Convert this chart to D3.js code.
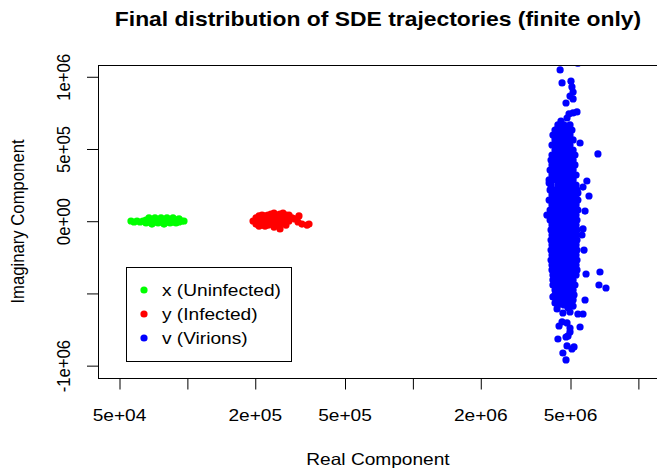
<!DOCTYPE html>
<html>
<head>
<meta charset="utf-8">
<script src="https://cdn.jsdelivr.net/npm/d3@7"></script>
<style>
body { margin: 0; background: #fff; }
svg { display: block; font-family: "Liberation Sans", Arial, Helvetica, sans-serif; }
</style>
</head>
<body>
<svg id="chart" width="657" height="470"></svg>
<script>
// chart text
var title = 'Final distribution of SDE trajectories (finite only)';
var xTitle = 'Real Component';
var yTitle = 'Imaginary Component';

// axis limits and ticks
var xLim = [4.035e4, 1.228e7];
var yLim = [-1.089e6, 1.078e6];
var xTicks = [5e4, 1e5, 2e5, 5e5, 1e6, 2e6, 5e6, 1e7];
var xTickLabels = ['5e+04', '', '2e+05', '5e+05', '', '2e+06', '5e+06', ''];
var yTicks = [-1e6, -5e5, 0, 5e5, 1e6];
var yTickLabels = ['-1e+06', '', '0e+00', '5e+05', '1e+06'];

var seriesNames = ['x (Uninfected)', 'y (Infected)', 'v (Virions)'];
var seriesColors = ['#00ff00', '#ff0000', '#0000ff'];

// final states [real, imaginary]
var uninfected = [
	[5.65e4, -2e3], [5.83e4, -9e3], [6.01e4, -2e3], [6.20e4, -9e3], [6.39e4, -2e3],
	[6.59e4, 5e3], [6.59e4, -1.6e4], [6.79e4, 1.9e4], [6.79e4, -9e3], [7.00e4, 5e3],
	[7.00e4, -2.3e4], [7.22e4, 1.9e4], [7.22e4, -9e3], [7.45e4, 5e3], [7.45e4, -1.6e4],
	[7.68e4, 1.9e4], [7.68e4, -9e3], [7.92e4, 5e3], [7.92e4, -2.3e4], [8.16e4, 1.9e4],
	[8.16e4, -9e3], [8.42e4, 5e3], [8.42e4, -1.6e4], [8.68e4, 1.9e4], [8.68e4, -9e3],
	[8.95e4, 5e3], [8.95e4, -1.6e4], [9.23e4, 1.2e4], [9.23e4, -9e3], [9.51e4, -2e3],
	[9.71e4, -2e3]
];

var infected = [
	[1.965e5, -2e3], [2.026e5, 1.9e4], [2.026e5, -2.3e4], [2.089e5, 3.3e4], [2.089e5, -2e3],
	[2.089e5, -3.7e4], [2.154e5, 3.9e4], [2.154e5, 5e3], [2.154e5, -3.0e4], [2.221e5, 3.3e4],
	[2.221e5, -2e3], [2.221e5, -3.7e4], [2.290e5, 3.9e4], [2.290e5, 5e3], [2.290e5, -3.0e4],
	[2.361e5, 4.6e4], [2.361e5, 1.2e4], [2.361e5, -2.3e4], [2.434e5, 5.3e4], [2.434e5, 1.9e4],
	[2.434e5, -1.6e4], [2.434e5, -4.4e4], [2.510e5, 3.9e4], [2.510e5, 5e3], [2.510e5, -3.0e4],
	[2.588e5, 4.6e4], [2.588e5, 1.2e4], [2.588e5, -2.3e4], [2.588e5, -5.7e4], [2.669e5, 5.3e4],
	[2.669e5, 1.9e4], [2.669e5, -1.6e4], [2.752e5, 3.9e4], [2.752e5, 5e3], [2.752e5, -3.0e4],
	[2.837e5, 3.9e4], [2.837e5, -2e3], [2.925e5, 1.9e4], [3.016e5, 1.2e4], [3.141e5, 3.3e4],
	[3.110e5, -9e3], [3.239e5, -2.3e4], [3.409e5, -3.0e4], [3.480e5, -2.3e4]
];

var virions = [
	// upper tail
	[5.42e6, 1.09e6], [4.52e6, 1.044e6], [4.61e6, 9.54e5], [5.05e6, 9.66e5], [5.10e6, 9.26e5],
	[5.16e6, 8.91e5], [5.00e6, 8.63e5], [5.16e6, 8.43e5], [4.80e6, 8.15e5], [5.37e6, 7.53e5],
	[5.16e6, 7.46e5], [4.95e6, 7.39e5], [4.85e6, 7.11e5], [4.56e6, 6.90e5], [4.65e6, 6.49e5],
	[4.42e6, 6.42e5], [4.95e6, 6.07e5], [4.47e6, 6.14e5], [5.54e6, 5.38e5], [6.65e6, 4.62e5],
	// core
	[4.42e6, 6.63e5], [4.70e6, 6.63e5], [5.00e6, 6.63e5],
	[4.29e6, 6.28e5], [4.56e6, 6.28e5], [4.85e6, 6.28e5], [5.10e6, 6.28e5],
	[4.20e6, 5.93e5], [4.42e6, 5.93e5], [4.70e6, 5.93e5], [5.00e6, 5.93e5],
	[4.29e6, 5.59e5], [4.56e6, 5.59e5], [4.85e6, 5.59e5], [5.16e6, 5.59e5],
	[4.16e6, 5.24e5], [4.42e6, 5.24e5], [4.70e6, 5.24e5], [5.00e6, 5.24e5],
	[4.29e6, 4.89e5], [4.56e6, 4.89e5], [4.85e6, 4.89e5], [5.16e6, 4.89e5],
	[4.16e6, 4.55e5], [4.42e6, 4.55e5], [4.70e6, 4.55e5], [5.00e6, 4.55e5], [5.26e6, 4.55e5],
	[4.12e6, 4.20e5], [4.29e6, 4.20e5], [4.56e6, 4.20e5], [4.85e6, 4.20e5], [5.16e6, 4.20e5],
	[4.16e6, 3.86e5], [4.42e6, 3.86e5], [4.70e6, 3.86e5], [5.00e6, 3.86e5], [5.26e6, 3.86e5],
	[4.08e6, 3.51e5], [4.29e6, 3.51e5], [4.56e6, 3.51e5], [4.85e6, 3.51e5], [5.16e6, 3.51e5],
	[4.16e6, 3.16e5], [4.42e6, 3.16e5], [4.70e6, 3.16e5], [5.00e6, 3.16e5], [5.32e6, 3.16e5],
	[4.04e6, 2.82e5], [4.29e6, 2.82e5], [4.56e6, 2.82e5], [4.85e6, 2.82e5], [5.16e6, 2.82e5],
	[4.12e6, 2.47e5], [4.42e6, 2.47e5], [4.70e6, 2.47e5], [5.00e6, 2.47e5], [5.32e6, 2.47e5],
	[4.08e6, 2.13e5], [4.29e6, 2.13e5], [4.56e6, 2.13e5], [4.85e6, 2.13e5], [5.16e6, 2.13e5], [5.37e6, 2.13e5],
	[4.16e6, 1.78e5], [4.42e6, 1.78e5], [4.70e6, 1.78e5], [5.00e6, 1.78e5], [5.32e6, 1.78e5],
	[4.04e6, 1.43e5], [4.29e6, 1.43e5], [4.56e6, 1.43e5], [4.85e6, 1.43e5], [5.16e6, 1.43e5], [5.42e6, 1.43e5],
	[4.16e6, 1.09e5], [4.42e6, 1.09e5], [4.70e6, 1.09e5], [5.00e6, 1.09e5], [5.32e6, 1.09e5],
	[4.08e6, 7.4e4], [4.29e6, 7.4e4], [4.56e6, 7.4e4], [4.85e6, 7.4e4], [5.16e6, 7.4e4], [5.42e6, 7.4e4],
	[4.16e6, 3.9e4], [4.42e6, 3.9e4], [4.70e6, 3.9e4], [5.00e6, 3.9e4], [5.32e6, 3.9e4],
	[4.08e6, 5e3], [4.29e6, 5e3], [4.56e6, 5e3], [4.85e6, 5e3], [5.16e6, 5e3], [5.37e6, 5e3],
	[4.16e6, -3.0e4], [4.42e6, -3.0e4], [4.70e6, -3.0e4], [5.00e6, -3.0e4], [5.32e6, -3.0e4],
	[4.12e6, -6.4e4], [4.29e6, -6.4e4], [4.56e6, -6.4e4], [4.85e6, -6.4e4], [5.16e6, -6.4e4], [5.37e6, -6.4e4],
	[4.16e6, -9.9e4], [4.42e6, -9.9e4], [4.70e6, -9.9e4], [5.00e6, -9.9e4], [5.32e6, -9.9e4],
	[4.12e6, -1.34e5], [4.29e6, -1.34e5], [4.56e6, -1.34e5], [4.85e6, -1.34e5], [5.16e6, -1.34e5], [5.37e6, -1.34e5],
	[4.16e6, -1.68e5], [4.42e6, -1.68e5], [4.70e6, -1.68e5], [5.00e6, -1.68e5], [5.32e6, -1.68e5],
	[4.12e6, -2.03e5], [4.29e6, -2.03e5], [4.56e6, -2.03e5], [4.85e6, -2.03e5], [5.16e6, -2.03e5], [5.37e6, -2.03e5],
	[4.16e6, -2.38e5], [4.42e6, -2.38e5], [4.70e6, -2.38e5], [5.00e6, -2.38e5], [5.32e6, -2.38e5],
	[4.12e6, -2.72e5], [4.29e6, -2.72e5], [4.56e6, -2.72e5], [4.85e6, -2.72e5], [5.16e6, -2.72e5], [5.37e6, -2.72e5],
	[4.16e6, -3.07e5], [4.42e6, -3.07e5], [4.70e6, -3.07e5], [5.00e6, -3.07e5], [5.32e6, -3.07e5],
	[4.16e6, -3.41e5], [4.29e6, -3.41e5], [4.56e6, -3.41e5], [4.85e6, -3.41e5], [5.16e6, -3.41e5], [5.37e6, -3.41e5],
	[4.20e6, -3.76e5], [4.42e6, -3.76e5], [4.70e6, -3.76e5], [5.00e6, -3.76e5], [5.32e6, -3.76e5],
	[4.20e6, -4.10e5], [4.29e6, -4.10e5], [4.56e6, -4.10e5], [4.85e6, -4.10e5], [5.16e6, -4.10e5],
	[4.20e6, -4.45e5], [4.42e6, -4.45e5], [4.70e6, -4.45e5], [5.00e6, -4.45e5], [5.26e6, -4.45e5],
	[4.29e6, -4.80e5], [4.56e6, -4.80e5], [4.85e6, -4.80e5], [5.16e6, -4.80e5],
	[4.29e6, -5.14e5], [4.42e6, -5.14e5], [4.70e6, -5.14e5], [5.00e6, -5.14e5], [5.21e6, -5.14e5],
	[4.33e6, -5.49e5], [4.56e6, -5.49e5], [4.85e6, -5.49e5], [5.16e6, -5.49e5],
	[4.42e6, -5.83e5], [4.70e6, -5.83e5], [5.00e6, -5.83e5],
	// side points
	[5.94e6, 2.75e5], [5.71e6, 2.33e5], [5.42e6, 1.92e5], [6.07e6, 1.71e5], [4.04e6, 2.61e5],
	[5.83e6, 6.7e4], [3.95e6, 3.9e4], [5.71e6, -5.7e4], [5.65e6, -9.9e4], [5.77e6, -2.03e5],
	[5.89e6, -3.69e5], [6.79e6, -3.55e5], [6.72e6, -4.45e5], [7.22e6, -4.66e5], [5.83e6, -5.49e5],
	// lower tail
	[4.20e6, -5.28e5], [4.29e6, -5.70e5], [4.90e6, -6.05e5], [5.16e6, -5.91e5], [5.00e6, -6.32e5],
	[4.38e6, -6.11e5], [4.65e6, -6.39e5], [5.42e6, -6.46e5], [5.71e6, -6.46e5], [4.61e6, -7.01e5],
	[4.85e6, -7.08e5], [4.47e6, -7.29e5], [5.00e6, -7.43e5], [5.54e6, -7.36e5], [5.00e6, -7.70e5],
	[4.80e6, -8.05e5], [4.90e6, -7.98e5], [4.42e6, -8.19e5], [4.85e6, -8.67e5], [5.21e6, -8.74e5],
	[5.10e6, -8.88e5], [4.65e6, -9.16e5], [4.80e6, -9.64e5]
];

var series = [uninfected, infected, virions];

// layout (the source picture is stretched a little horizontally)
var box = {left: 98, top: 65, right: 658, bottom: 378};
var stretch = 1.145;
var fontSize = 16.7;
var dotR = 3.6;

var svg = d3.select('#chart');

var x = d3.scaleLog().domain(xLim).range([box.left, box.right]);
var y = d3.scaleLinear().domain(yLim).range([box.bottom, box.top]);

svg.append('defs').append('clipPath').attr('id', 'plotclip')
	.append('rect')
	.attr('x', box.left).attr('y', box.top)
	.attr('width', box.right - box.left).attr('height', box.bottom - box.top);

// points
var plot = svg.append('g').attr('clip-path', 'url(#plotclip)');
series.forEach(function(s, i) {
	plot.append('g').selectAll('circle')
		.data(s)
		.enter().append('circle')
		.attr('cx', function(d) { return x(d[0]); })
		.attr('cy', function(d) { return y(d[1]); })
		.attr('r', dotR)
		.attr('fill', seriesColors[i]);
});

// box
svg.append('rect')
	.attr('x', box.left + 0.5).attr('y', box.top + 0.5)
	.attr('width', box.right - box.left).attr('height', box.bottom - box.top)
	.attr('fill', 'none').attr('stroke', '#000').attr('stroke-width', 1);

// x axis
var gx = svg.append('g')
	.attr('transform', 'translate(0.5,' + (box.bottom + 0.5) + ')')
	.call(d3.axisBottom(x).tickValues(xTicks)
		.tickFormat(function(d, i) { return xTickLabels[i]; })
		.tickSize(11).tickSizeOuter(0));
gx.attr('font-size', null).attr('font-family', null);
gx.select('.domain').remove();
gx.selectAll('.tick line').attr('stroke', '#000');
gx.selectAll('.tick text')
	.attr('y', null).attr('dy', null)
	.attr('fill', '#000')
	.attr('transform', 'translate(-0.5,42.2) scale(' + stretch + ',1)')
	.style('font-size', fontSize + 'px');

// y axis
var gy = svg.append('g')
	.attr('transform', 'translate(' + (box.left + 0.5) + ',0.5)')
	.call(d3.axisLeft(y).tickValues(yTicks)
		.tickFormat(function(d, i) { return yTickLabels[i]; })
		.tickSize(11.5).tickSizeOuter(0));
gy.attr('font-size', null).attr('font-family', null);
gy.select('.domain').remove();
gy.selectAll('.tick line').attr('stroke', '#000');
gy.selectAll('.tick text')
	.attr('x', null).attr('dy', null)
	.attr('fill', '#000')
	.attr('text-anchor', 'middle')
	.attr('transform', 'translate(-28.5,0) scale(' + stretch + ',1) rotate(-90)')
	.style('font-size', fontSize + 'px');

// titles
var midX = (box.left + box.right) / 2;
var midY = (box.top + box.bottom) / 2;

svg.append('text')
	.attr('transform', 'translate(' + midX + ',26) scale(' + stretch + ',1)')
	.attr('text-anchor', 'middle')
	.style('font-size', '20px').style('font-weight', 'bold')
	.text(title);

svg.append('text')
	.attr('transform', 'translate(' + midX + ',465) scale(' + stretch + ',1)')
	.attr('text-anchor', 'middle')
	.style('font-size', fontSize + 'px')
	.text(xTitle);

svg.append('text')
	.attr('transform', 'translate(23.5,' + midY + ') scale(' + stretch + ',1) rotate(-90)')
	.attr('text-anchor', 'middle')
	.style('font-size', fontSize + 'px')
	.text(yTitle);

// legend
var legend = svg.append('g').attr('transform', 'translate(126.5,267.5)');
legend.append('rect')
	.attr('width', 165).attr('height', 94)
	.attr('fill', '#fff').attr('stroke', '#000');
seriesNames.forEach(function(name, i) {
	var cy = 22.5 + i * 24;
	legend.append('circle')
		.attr('cx', 17.5).attr('cy', cy).attr('r', dotR)
		.attr('fill', seriesColors[i]);
	legend.append('text')
		.attr('transform', 'translate(35.5,' + (cy + 6) + ') scale(' + stretch + ',1)')
		.style('font-size', fontSize + 'px')
		.text(name);
});
</script>
</body>
</html>
